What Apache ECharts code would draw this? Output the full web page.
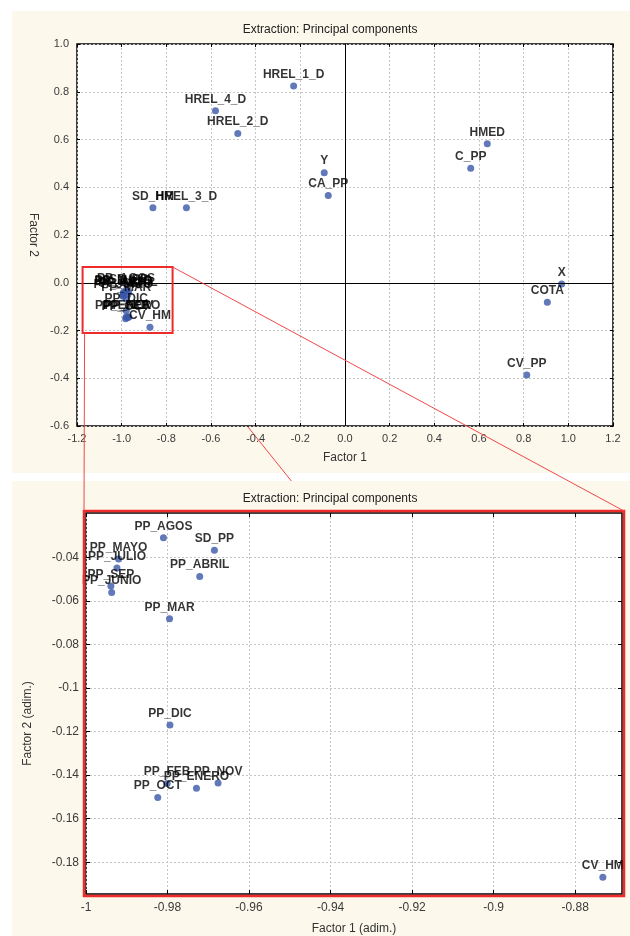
<!DOCTYPE html>
<html><head><meta charset="utf-8">
<script src="https://cdn.jsdelivr.net/npm/echarts@6/dist/echarts.min.js"></script>
<style>html,body{margin:0;padding:0;background:#fff}#c{width:630px;height:936px}</style>
</head><body><div id="c"></div>
<script>
// ---- data ----
const names = ['HREL_1_D','HREL_4_D','HREL_2_D','Y','CA_PP','SD_HM','HREL_3_D','HMED','C_PP','X','COTA','CV_PP','CV_HM',
  'PP_AGOS','SD_PP','PP_MAYO','PP_JULIO','PP_SEP','PP_JUNIO','PP_ABRIL','PP_MAR','PP_DIC','PP_FEB','PP_ENERO','PP_NOV','PP_OCT'];
const factor1 = [-0.23,-0.58,-0.48,-0.093,-0.075,-0.86,-0.71,0.637,0.563,0.97,0.906,0.814,-0.8732,
  -0.9810,-0.9685,-0.9920,-0.9924,-0.9939,-0.9937,-0.9721,-0.9795,-0.9794,-0.9801,-0.9729,-0.9676,-0.9824];
const factor2 = [0.824,0.72,0.625,0.461,0.365,0.314,0.314,0.582,0.48,-0.005,-0.082,-0.386,-0.1869,
  -0.0311,-0.0368,-0.0408,-0.0449,-0.0532,-0.0562,-0.0489,-0.0683,-0.1170,-0.1439,-0.1460,-0.1436,-0.1503];
const titleText = 'Extraction: Principal components';
const topXName = 'Factor 1', topYName = 'Factor 2';
const botXName = 'Factor 1 (adim.)', botYName = 'Factor 2 (adim.)';
const topRange = {xMin:-1.2, xMax:1.2, yMin:-0.6, yMax:1.0, step:0.2};
const zoomRange = {xMin:-1.0, xMax:-0.8685, yMin:-0.1946, yMax:-0.0197};
const bottomXTicks = [-1, -0.98, -0.96, -0.94, -0.92, -0.9, -0.88];
const bottomYTicks = [-0.18, -0.16, -0.14, -0.12, -0.1, -0.08, -0.06, -0.04];
const zoomBox = {x0:-1.175, x1:-0.772, y0:-0.21, y1:0.066};

// ---- style ----
const FONT = 'Liberation Sans, Arial, sans-serif';
const CREAM = '#fcf8ec';
const DOT = '#3a58a8';
const RED = '#ee2b2b';
const gridLine = {show:true, lineStyle:{color:'#c4c4c4', width:1, type:[2,2]}};

const allData = names.map((n,i)=>({name:n, value:[factor1[i], factor2[i]]}));
const zoomData = allData.filter(d => d.value[0]>=zoomRange.xMin && d.value[0]<=zoomRange.xMax &&
                                    d.value[1]>=zoomRange.yMin && d.value[1]<=zoomRange.yMax);

const fmt1 = v => (Math.abs(v)<1e-9?0:v).toFixed(1);
const fmt2 = v => String(parseFloat(v.toFixed(2)));

const labelStyle = {show:true, position:'top', distance:2, formatter:p=>p.name,
  fontFamily:FONT, fontWeight:'bold', fontSize:12, color:'#000'};
const axLabel = {fontFamily:FONT, fontSize:11, color:'#3a3a3a'};

function mainAxisX(gi, extra){ return Object.assign({type:'value', gridIndex:gi, position:'bottom',
  axisLine:{show:false, onZero:false}, axisTick:{show:true, inside:true, length:3, lineStyle:{color:'#000'}},
  nameLocation:'middle', nameTextStyle:{fontFamily:FONT, fontSize:12, color:'#333'}}, extra); }

const chart = echarts.init(document.getElementById('c'), null, {renderer:'canvas'});
const option = {
  animation:false,
  backgroundColor:'#fff',
  title:[
    {text:titleText, left:325, top:19, textAlign:'center', textStyle:{fontFamily:FONT, fontSize:12, fontWeight:'normal', color:'#222'}},
    {text:titleText, left:325, top:488, textAlign:'center', textStyle:{fontFamily:FONT, fontSize:12, fontWeight:'normal', color:'#222'}}
  ],
  grid:[
    {left:77, top:44, width:536, height:382, show:true, backgroundColor:'#fff', borderColor:'#000', borderWidth:1.5, outerBoundsMode:'none', containLabel:false},
    {left:86, top:513, width:536, height:381, show:true, backgroundColor:'#fff', borderColor:'#000', borderWidth:1.5, outerBoundsMode:'none', containLabel:false}
  ],
  xAxis:[
    mainAxisX(0, {min:topRange.xMin, max:topRange.xMax, interval:topRange.step, splitLine:gridLine,
      axisLabel:Object.assign({formatter:fmt1, margin:7}, axLabel), name:topXName, nameGap:26}),
    {type:'value', gridIndex:0, position:'top', min:topRange.xMin, max:topRange.xMax, interval:topRange.step,
      axisLine:{show:false, onZero:false}, axisTick:{show:true, inside:true, length:3, lineStyle:{color:'#000'}}, axisLabel:{show:false}, splitLine:{show:false}},
    mainAxisX(1, {min:zoomRange.xMin, max:zoomRange.xMax, splitLine:gridLine,
      axisTick:{show:true, inside:true, length:4, lineStyle:{color:'#000'}, customValues:bottomXTicks},
      axisLabel:Object.assign({formatter:fmt2, margin:8, customValues:bottomXTicks}, axLabel, {fontSize:12}),
      name:botXName, nameGap:29}),
    {type:'value', gridIndex:1, position:'top', min:zoomRange.xMin, max:zoomRange.xMax,
      axisLine:{show:false, onZero:false}, axisTick:{show:true, inside:true, length:4, lineStyle:{color:'#000'}, customValues:bottomXTicks},
      axisLabel:{show:false, customValues:bottomXTicks}, splitLine:{show:false}}
  ],
  yAxis:[
    {type:'value', gridIndex:0, position:'left', min:topRange.yMin, max:topRange.yMax, interval:topRange.step,
      axisLine:{show:false, onZero:false}, axisTick:{show:true, inside:true, length:3, lineStyle:{color:'#000'}},
      axisLabel:Object.assign({formatter:fmt1, margin:8}, axLabel), splitLine:gridLine,
      name:topYName, nameLocation:'middle', nameRotate:-90, nameGap:33, nameTextStyle:{fontFamily:FONT, fontSize:12, color:'#333'}},
    {type:'value', gridIndex:0, position:'right', min:topRange.yMin, max:topRange.yMax, interval:topRange.step,
      axisLine:{show:false, onZero:false}, axisTick:{show:true, inside:true, length:3, lineStyle:{color:'#000'}}, axisLabel:{show:false}, splitLine:{show:false}},
    {type:'value', gridIndex:1, position:'left', min:zoomRange.yMin, max:zoomRange.yMax,
      axisLine:{show:false, onZero:false}, axisTick:{show:true, inside:true, length:4, lineStyle:{color:'#000'}, customValues:bottomYTicks},
      axisLabel:Object.assign({formatter:fmt2, margin:7, customValues:bottomYTicks}, axLabel, {fontSize:12}), splitLine:gridLine,
      name:botYName, nameLocation:'middle', nameRotate:90, nameGap:52,
      nameTextStyle:{fontFamily:FONT, fontSize:12, color:'#333', padding:[0,40,0,0]}},
    {type:'value', gridIndex:1, position:'right', min:zoomRange.yMin, max:zoomRange.yMax,
      axisLine:{show:false, onZero:false}, axisTick:{show:true, inside:true, length:4, lineStyle:{color:'#000'}, customValues:bottomYTicks},
      axisLabel:{show:false, customValues:bottomYTicks}, splitLine:{show:false}}
  ],
  series:[
    {type:'scatter', xAxisIndex:0, yAxisIndex:0, data:allData, symbolSize:7, itemStyle:{color:DOT}, label:labelStyle, z:3,
      markLine:{silent:true, symbol:'none', label:{show:false}, lineStyle:{color:'#000', width:1, type:'solid'},
        data:[{xAxis:0},{yAxis:0}]}},
    {type:'scatter', xAxisIndex:2, yAxisIndex:2, data:zoomData, symbolSize:7, itemStyle:{color:DOT}, label:labelStyle, z:3, clip:false}
  ]
};
chart.setOption(option);

// zoom-box annotations computed through the axes
const p = (gi, x, y) => chart.convertToPixel({gridIndex:gi}, [x, y]);
const sTL = p(0, zoomBox.x0, zoomBox.y1), sBR = p(0, zoomBox.x1, zoomBox.y0);
const bTL = p(1, zoomRange.xMin, zoomRange.yMax), bBR = p(1, zoomRange.xMax, zoomRange.yMin);
const o = 2;
chart.setOption({graphic:[
  {type:'rect', z:-100, shape:{x:12, y:11, width:618, height:462}, style:{fill:CREAM}},
  {type:'line', z:-50, shape:{x1:sBR[0], y1:sBR[1], x2:bBR[0]+o, y2:bBR[1]+o}, style:{stroke:'#f04848', lineWidth:1}},
  {type:'rect', z:-40, shape:{x:12, y:481, width:618, height:455}, style:{fill:CREAM}},
  {type:'rect', z:20, shape:{x:sTL[0], y:sTL[1], width:sBR[0]-sTL[0], height:sBR[1]-sTL[1]}, style:{fill:null, stroke:RED, lineWidth:2}},
  {type:'rect', z:20, shape:{x:bTL[0]-o, y:bTL[1]-o, width:bBR[0]-bTL[0]+2*o, height:bBR[1]-bTL[1]+2*o}, style:{fill:null, stroke:RED, lineWidth:2.5}},
  {type:'line', z:20, shape:{x1:sBR[0], y1:sTL[1], x2:bBR[0]+o, y2:bTL[1]-o}, style:{stroke:'#f04848', lineWidth:1}},
  {type:'line', z:20, shape:{x1:sTL[0]+2, y1:sBR[1], x2:bTL[0]-o, y2:bTL[1]-o}, style:{stroke:'#f04848', lineWidth:1}}
]});
</script></body></html>
